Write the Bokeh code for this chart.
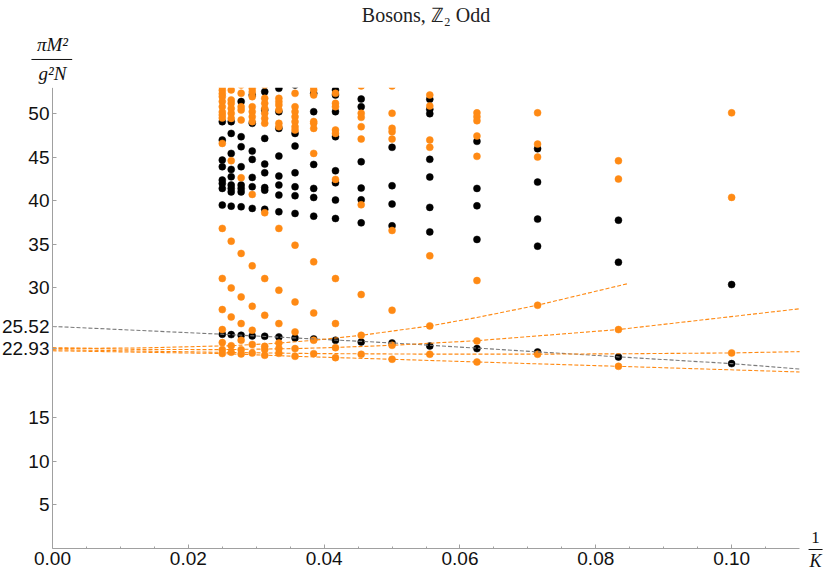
from bokeh.plotting import figure
from bokeh.models import Range1d, FixedTicker, NumeralTickFormatter, Label, Arrow, BoxAnnotation
from bokeh.embed import file_html
from bokeh.resources import INLINE

# ---------------- data ----------------
title_text = "Bosons, ℤ₂ Odd"
ylabel_num = "πM²"
ylabel_den = "g²N"
xlabel_num = "1"
xlabel_den = "K"

x_ticks = [0.0, 0.02, 0.04, 0.06, 0.08, 0.10]
x_minor_ticks = [0.005, 0.01, 0.015, 0.025, 0.03, 0.035, 0.045, 0.05, 0.055,
                 0.065, 0.07, 0.075, 0.085, 0.09, 0.095, 0.105]
y_ticks = [5, 10, 15, 22.93, 25.52, 30, 35, 40, 45, 50]
y_tick_labels = ["5", "10", "15", "22.93", "25.52", "30", "35", "40", "45", "50"]

x_axis_extent = (0.0, 0.11)
y_axis_extent = (0.0, 53.0)

# resolution K (points are plotted at 1/K)
K_values = [40, 38, 36, 34, 32, 30, 28, 26, 24, 22, 20, 18, 16, 14, 12, 10]

# black points (pi M^2 / g^2 N), one list per K
black_levels = [
    [49.08, 46.97, 44.66, 43.9, 42.36, 41.97, 41.4, 39.48, 24.62],
    [49.08, 47.73, 45.43, 43.59, 42.74, 41.79, 41.4, 41.0, 39.36, 24.58],
    [51.4, 47.35, 46.2, 43.9, 41.79, 41.4, 41.0, 39.29, 24.50],
    [52.15, 48.89, 45.7, 44.74, 42.67, 41.59, 39.1, 24.43],
    [52.53, 50.42, 47.16, 44.2, 43.2, 41.5, 41.2, 39.0, 24.39],
    [52.92, 50.23, 48.31, 45.12, 42.82, 41.79, 40.63, 38.71, 24.31],
    [53.3, 47.73, 46.27, 43.2, 41.59, 40.56, 38.52, 24.19],
    [52.34, 50.23, 44.16, 41.4, 40.36, 38.21, 24.08],
    [52.73, 52.15, 50.23, 47.35, 43.43, 42.05, 40.06, 37.94, 23.93],
    [51.69, 50.8, 44.47, 41.44, 40.09, 37.44, 23.73],
    [46.13, 41.71, 39.6, 37.1, 23.62],
    [51.66, 50.5, 50.0, 44.75, 42.71, 39.22, 36.4, 23.27],
    [46.82, 41.4, 39.4, 35.53, 22.97],
    [45.97, 42.13, 37.87, 34.76, 22.58],
    [37.75, 32.91, 22.0],
    [30.34, 21.24],
]

# orange points, one list per K
orange_levels = [
    [53.1, 52.7, 52.3, 51.96, 51.4, 50.8, 50.2, 49.85, 49.5, 46.58, 36.8, 31.04, 27.46, 25.16, 23.66, 22.85, 22.4],
    [52.73, 51.58, 51.19, 50.6, 50.04, 49.46, 44.59, 35.33, 29.95, 26.61, 23.3, 22.55],
    [53.3, 52.34, 50.8, 50.42, 49.27, 42.63, 33.92, 28.92, 25.85, 23.93, 22.85, 22.35],
    [53.3, 52.9, 52.5, 51.96, 50.8, 50.23, 49.65, 49.08, 40.71, 32.49, 27.84, 25.08, 23.45, 22.45],
    [53.3, 51.77, 51.19, 50.6, 50.04, 49.46, 48.89, 38.6, 31.03, 26.8, 23.23, 22.86, 22.2],
    [51.77, 51.38, 51.0, 50.42, 48.89, 48.5, 36.8, 29.69, 25.85, 23.62, 22.97, 22.42],
    [52.34, 50.8, 50.23, 49.65, 49.08, 48.5, 48.12, 34.87, 28.34, 24.89, 22.97, 22.08],
    [53.1, 52.73, 52.15, 49.1, 48.89, 48.31, 45.43, 32.95, 27.07, 23.93, 22.39],
    [52.34, 51.19, 50.8, 48.12, 47.73, 42.44, 31.03, 25.85, 23.08, 21.93],
    [53.2, 50.05, 49.58, 48.5, 47.08, 39.52, 29.19, 24.5, 22.31],
    [53.2, 50.05, 48.32, 47.93, 47.08, 36.56, 27.38, 23.35, 21.74],
    [52.15, 50.89, 46.97, 46.13, 33.64, 25.58, 22.32],
    [50.1, 49.65, 49.19, 47.43, 45.09, 30.8, 23.85, 21.43],
    [50.1, 46.5, 45.01, 27.96, 22.32],
    [44.58, 42.48, 25.16, 20.93],
    [50.1, 40.37, 22.47],
]

# dashed extrapolation curves
gray_fit_x = [0.0, 0.025, 0.05, 0.0714, 0.0833, 0.1, 0.11]
gray_fit_y = [25.52, 24.62, 23.62, 22.6, 22.02, 21.24, 20.62]

fitA_x = [0.0, 0.0131, 0.0263, 0.0333, 0.0385, 0.0455, 0.0556, 0.0625, 0.0714, 0.0848]
fitA_y = [22.98, 23.05, 23.3, 23.6, 23.93, 24.5, 25.58, 26.55, 27.96, 30.46]

fitB_x = [0.0, 0.0125, 0.025, 0.0357, 0.0417, 0.05, 0.0625, 0.0833, 0.11]
fitB_y = [23.08, 22.87, 22.85, 22.97, 23.1, 23.35, 23.88, 25.16, 27.55]

fitC_x = [0.0, 0.0263, 0.0385, 0.0556, 0.0714, 0.0833, 0.1, 0.11]
fitC_y = [22.85, 22.52, 22.4, 22.33, 22.33, 22.37, 22.47, 22.62]

fitD_x = [0.0, 0.025, 0.0357, 0.05, 0.0625, 0.0833, 0.11]
fitD_y = [22.72, 22.4, 22.08, 21.74, 21.43, 20.93, 20.28]

# ---------------- styling ----------------
ORANGE = "#FF8A14"
BLACK = "#000000"
GRAY_LINE = "#7a7a7a"
AXIS_GRAY = "#a0a0a0"
SERIF = "Liberation Serif"

# the frame covers the whole canvas; the axes sit at x=0 / y=0 inside it
p = figure(width=826, height=572,
           x_range=Range1d(-0.007657, 0.11397), y_range=Range1d(-2.796, 63.026),
           output_backend="svg", toolbar_location=None,
           min_border_left=0, min_border_right=0,
           min_border_top=0, min_border_bottom=0)
p.title.visible = False
p.grid.visible = False
p.outline_line_color = None
p.background_fill_color = "white"
p.border_fill_color = "white"

for ax in (p.xaxis[0], p.yaxis[0]):
    ax.fixed_location = 0
    ax.axis_line_color = AXIS_GRAY
    ax.major_tick_line_color = AXIS_GRAY
    ax.minor_tick_line_color = AXIS_GRAY
    ax.major_tick_in = 4
    ax.major_tick_out = 0
    ax.minor_tick_in = 2
    ax.minor_tick_out = 0
    ax.major_label_text_font = "Liberation Sans"
    ax.major_label_text_color = "#111111"
    ax.major_label_text_font_size = "19px"
    ax.major_label_standoff = 3

p.xaxis.major_label_standoff = 4
p.xaxis.bounds = x_axis_extent
p.yaxis.bounds = y_axis_extent
p.xaxis.ticker = FixedTicker(ticks=x_ticks, minor_ticks=x_minor_ticks)
p.xaxis.formatter = NumeralTickFormatter(format="0.00")
p.yaxis.ticker = FixedTicker(ticks=y_ticks, minor_ticks=[])
p.yaxis.major_label_overrides = {t: s for t, s in zip(y_ticks, y_tick_labels)}

# points
bx, by = [], []
for k, levels in zip(K_values, black_levels):
    for v in levels:
        bx.append(1.0 / k)
        by.append(v)
ox, oy = [], []
for k, levels in zip(K_values, orange_levels):
    for v in levels:
        ox.append(1.0 / k)
        oy.append(v)

p.scatter(bx, by, size=7, fill_color=BLACK, line_color=BLACK, line_width=0.5)
p.scatter(ox, oy, size=7, fill_color=ORANGE, line_color=ORANGE, line_width=0.5)

# dashed curves (drawn above the points, as in the reference)
p.line(gray_fit_x, gray_fit_y, line_color=GRAY_LINE, line_dash="4 2", line_width=1.1)
for fx, fy in ((fitA_x, fitA_y), (fitB_x, fitB_y), (fitC_x, fitC_y), (fitD_x, fitD_y)):
    p.line(fx, fy, line_color=ORANGE, line_dash="4 2", line_width=1.1)

# plot region ends at the top of the y axis: mask what lies above it
p.add_layout(BoxAnnotation(bottom=y_axis_extent[1], fill_color="white", fill_alpha=1.0,
                           line_alpha=0.0))

# title
p.add_layout(Label(x=0.055, y=61.4, text=title_text, text_align="center",
                   text_baseline="middle", text_font=SERIF,
                   text_font_size="20px", text_color="#222222"))

# y-axis label as a stacked fraction
p.add_layout(Label(x=0.0, y=58.0, text=ylabel_num, text_align="center",
                   text_baseline="middle", text_font=SERIF, text_font_style="italic",
                   text_font_size="19px", text_color="#111111"))
p.add_layout(Arrow(end=None, x_start=-0.0031, y_start=56.24, x_end=0.0029, y_end=56.24,
                   line_color="#111111", line_width=1))
p.add_layout(Label(x=0.0, y=54.6, text=ylabel_den, text_align="center",
                   text_baseline="middle", text_font=SERIF, text_font_style="italic",
                   text_font_size="19px", text_color="#111111"))

# x-axis label as a stacked fraction
p.add_layout(Label(x=0.11235, y=1.2, text=xlabel_num, text_align="center",
                   text_baseline="middle", text_font=SERIF,
                   text_font_size="17px", text_color="#111111"))
p.add_layout(Arrow(end=None, x_start=0.11133, y_start=-0.15, x_end=0.11339, y_end=-0.15,
                   line_color="#111111", line_width=1))
p.add_layout(Label(x=0.11235, y=-1.45, text=xlabel_den, text_align="center",
                   text_baseline="middle", text_font=SERIF, text_font_style="italic",
                   text_font_size="18px", text_color="#111111"))

open("out.html", "w").write(file_html(p, INLINE))
